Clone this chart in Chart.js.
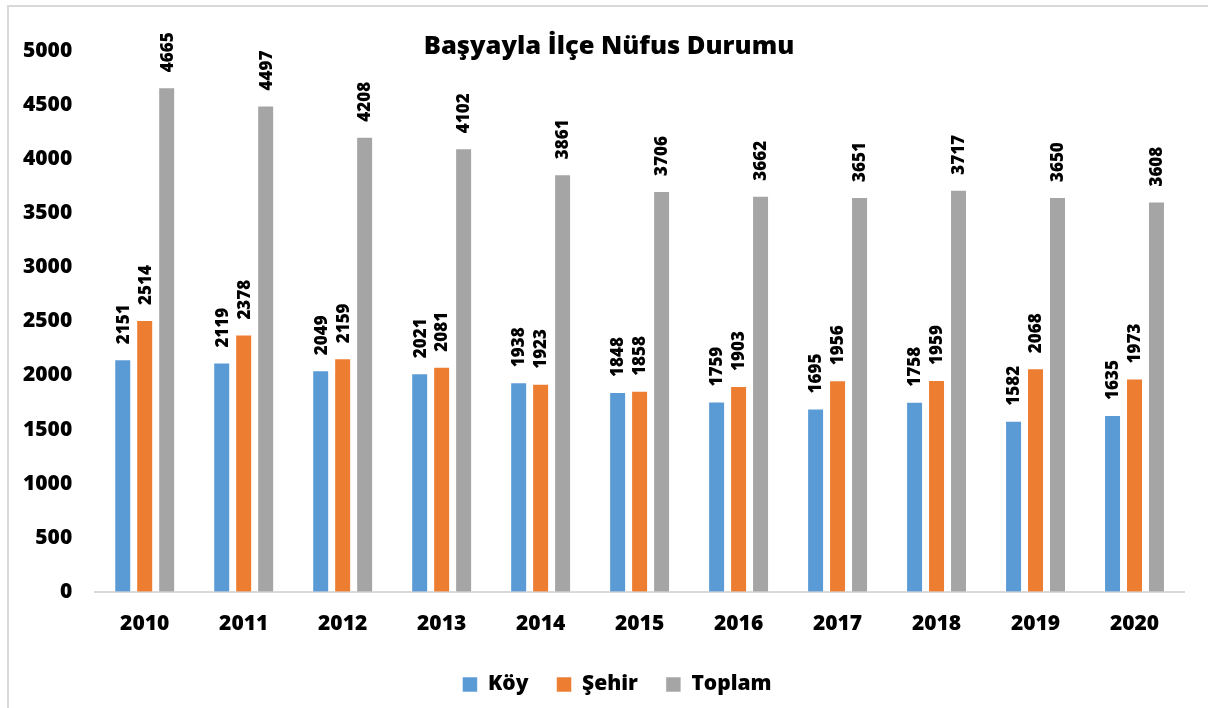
<!DOCTYPE html>
<html lang="tr">
<head>
<meta charset="utf-8">
<title>Başyayla İlçe Nüfus Durumu</title>
<script src="https://cdn.jsdelivr.net/npm/chart.js@4.4.1/dist/chart.umd.min.js"></script>
<style>
  html, body { margin: 0; padding: 0; background: #fff; overflow: hidden; }
  .frame {
    position: absolute; left: 7px; top: 5px; width: 1300px; height: 800px;
    border: 2px solid #d9d9d9; box-sizing: border-box;
  }
  #wrap { position: absolute; left: 0; top: 0; width: 1234px; height: 708px; }
</style>
</head>
<body>
<div class="frame"></div>
<div id="wrap"><canvas id="chart" width="1234" height="708"></canvas></div>
<script>
  const TITLE = "Başyayla İlçe Nüfus Durumu";
  const years = ["2010", "2011", "2012", "2013", "2014", "2015", "2016", "2017", "2018", "2019", "2020"];
  const koy = [2151, 2119, 2049, 2021, 1938, 1848, 1759, 1695, 1758, 1582, 1635];
  const sehir = [2514, 2378, 2159, 2081, 1923, 1858, 1903, 1956, 1959, 2068, 1973];
  const toplam = [4665, 4497, 4208, 4102, 3861, 3706, 3662, 3651, 3717, 3650, 3608];
  const yTicks = [0, 500, 1000, 1500, 2000, 2500, 3000, 3500, 4000, 4500, 5000];

  const FONT = "'Open Sans', 'Noto Sans', sans-serif";
  const W = "800";

  // başlık: grafik alanının üstüne biner, düzende yer kaplamaz
  const titlePlugin = {
    id: "overTitle",
    afterDraw(chart) {
      const ctx = chart.ctx;
      ctx.save();
      ctx.font = W + " 25.5px " + FONT;
      ctx.fillStyle = "#000";
      ctx.textAlign = "center";
      ctx.textBaseline = "middle";
      ctx.fillText(TITLE, 609, 47);
      ctx.restore();
    },
  };

  // lejantı biraz sağa kaydır (Excel'deki gibi)
  const legendShift = {
    id: "legendShift",
    afterLayout(chart) {
      chart.legend.left += 25;
      chart.legend.right += 25;
    },
  };

  // dikey veri etiketleri (çubuğun üstünde, 90° döndürülmüş)
  const labelPlugin = {
    id: "vLabels",
    afterDatasetsDraw(chart) {
      const ctx = chart.ctx;
      ctx.save();
      ctx.font = W + " 17px " + FONT;
      ctx.fillStyle = "#000";
      ctx.textAlign = "left";
      ctx.textBaseline = "middle";
      chart.data.datasets.forEach((ds, di) => {
        const meta = chart.getDatasetMeta(di);
        meta.data.forEach((bar, i) => {
          ctx.save();
          ctx.translate(bar.x + 1, bar.y - 15);
          ctx.rotate(-Math.PI / 2);
          ctx.fillText(String(ds.data[i]), 0, 0);
          ctx.restore();
        });
      });
      ctx.restore();
    },
  };

  const barCommon = {
    borderColor: "rgba(255,255,255,0.55)",
    borderWidth: 1,
    barPercentage: 0.773,
    categoryPercentage: 0.666,
  };

  new Chart(document.getElementById("chart").getContext("2d"), {
    type: "bar",
    data: {
      labels: years,
      datasets: [
        { label: "Köy", data: koy, backgroundColor: "#5b9bd5", ...barCommon },
        { label: "Şehir", data: sehir, backgroundColor: "#ed7d31", ...barCommon },
        { label: "Toplam", data: toplam, backgroundColor: "#a5a5a5", ...barCommon },
      ],
    },
    options: {
      responsive: false,
      animation: false,
      devicePixelRatio: 1,
      layout: { padding: { top: 51, left: 0, right: 50, bottom: 3 } },
      plugins: {
        title: { display: false },
        tooltip: { enabled: false },
        legend: {
          display: true,
          position: "bottom",
          labels: {
            boxWidth: 15,
            boxHeight: 15,
            padding: 28,
            color: "#000",
            font: { family: FONT, size: 21, weight: W },
          },
        },
      },
      scales: {
        x: {
          grid: { display: false, drawTicks: false },
          border: { display: true, color: "#d9d9d9", width: 2 },
          afterFit(scale) {
            scale.height -= 11;
          },
          ticks: {
            color: "#000",
            padding: 20,
            font: { family: FONT, size: 21, weight: W },
          },
        },
        y: {
          min: 0,
          max: 5000,
          grid: { display: false, drawTicks: false },
          border: { display: false },
          afterBuildTicks(scale) {
            scale.ticks = yTicks.map((v) => ({ value: v }));
          },
          ticks: {
            color: "#000",
            padding: 23,
            font: { family: FONT, size: 21, weight: W },
            callback: (v) => String(v),
          },
        },
      },
    },
    plugins: [titlePlugin, labelPlugin, legendShift],
  });
</script>
</body>
</html>
